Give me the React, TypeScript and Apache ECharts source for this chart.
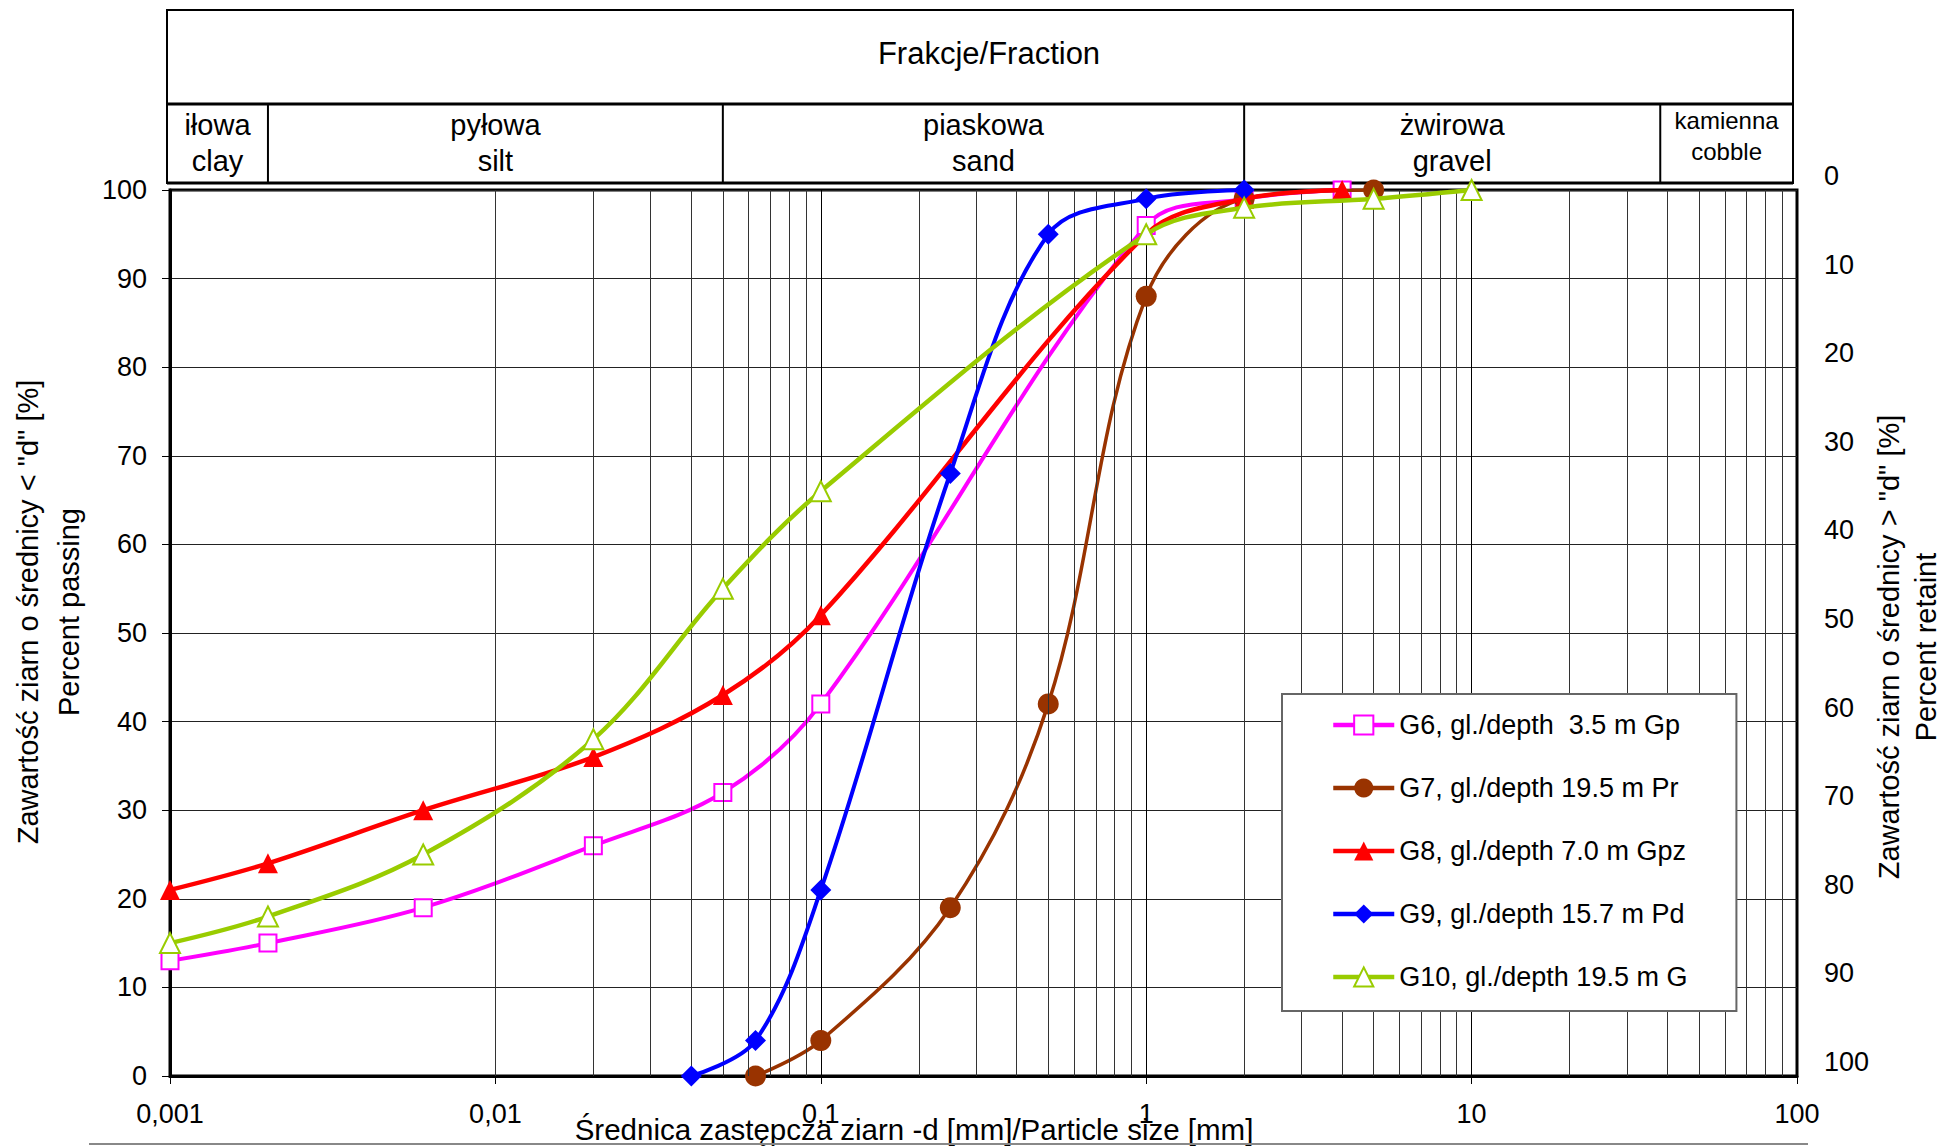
import React, { useEffect, useRef } from 'react';
import * as echarts from 'echarts';

// ---- data ----
const seriesNames = [
  'G6, gl./depth  3.5 m Gp',
  'G7, gl./depth 19.5 m Pr',
  'G8, gl./depth 7.0 m Gpz',
  'G9, gl./depth 15.7 m Pd',
  'G10, gl./depth 19.5 m G',
];
const g6X = [0.001, 0.002, 0.006, 0.02, 0.05, 0.1, 1, 2, 4];
const g6Y = [13, 15, 19, 26, 32, 42, 96, 99, 100];
const g7X = [0.063, 0.1, 0.25, 0.5, 1, 2, 5];
const g7Y = [0, 4, 19, 42, 88, 99, 100];
const g8X = [0.001, 0.002, 0.006, 0.02, 0.05, 0.1, 1, 2, 4];
const g8Y = [21, 24, 30, 36, 43, 52, 95, 99, 100];
const g9X = [0.04, 0.063, 0.1, 0.25, 0.5, 1, 2];
const g9Y = [0, 4, 21, 68, 95, 99, 100];
const g10X = [0.001, 0.002, 0.006, 0.02, 0.05, 0.1, 1, 2, 5, 10];
const g10Y = [15, 18, 25, 38, 55, 66, 95, 98, 99, 100];

const xTickLabels = ['0,001', '0,01', '0,1', '1', '10', '100'];
const leftTickLabels = ['0', '10', '20', '30', '40', '50', '60', '70', '80', '90', '100'];
const rightTickLabels = ['0', '10', '20', '30', '40', '50', '60', '70', '80', '90', '100'];
const minorGrid = [
  0.002, 0.003, 0.004, 0.005, 0.006, 0.007, 0.008, 0.009,
  0.02, 0.03, 0.04, 0.05, 0.06, 0.07, 0.08, 0.09,
  0.2, 0.3, 0.4, 0.5, 0.6, 0.7, 0.8, 0.9,
  2, 3, 4, 5, 6, 7, 8, 9,
  20, 30, 40, 50, 60, 70, 80, 90,
];
const fractionEdges = [0.001, 0.002, 0.05, 2, 38, 100];
const fractionLabels = [
  ['iłowa', 'clay'],
  ['pyłowa', 'silt'],
  ['piaskowa', 'sand'],
  ['żwirowa', 'gravel'],
  ['kamienna', 'cobble'],
];
const headerTitle = 'Frakcje/Fraction';
const yNameLeft = 'Zawartość ziarn o średnicy < "d" [%]\nPercent passing';
const yNameRight = 'Zawartość ziarn o średnicy > "d" [%]\nPercent retaint';
const xName = 'Średnica zastępcza ziarn -d [mm]/Particle size [mm]';

const FONT = '"Liberation Sans", Arial, Helvetica, sans-serif';

const W = 1942;
const H = 1146;
const GL = 170;
const GT = 190;
const GR = 1797;
const GB = 1076;

const px = (v: number) => GL + ((GR - GL) * (Math.log10(v) + 3)) / 5;

export default function App() {
  const ref = useRef<HTMLDivElement>(null);

  useEffect(() => {
    document.body.style.margin = '0';
    if (!ref.current) return;
    const chart = echarts.init(ref.current, undefined, { renderer: 'svg' });

    const styles = [
      { color: '#FF00FF', symbol: 'emptyRect', size: 17, width: 4 },
      { color: '#993300', symbol: 'circle', size: 21, width: 3.5 },
      { color: '#FF0000', symbol: 'triangle', size: 20, width: 4.5 },
      { color: '#0000FF', symbol: 'diamond', size: 21, width: 4 },
      { color: '#99CC00', symbol: 'emptyTriangle', size: 20, width: 4.5 },
    ];
    const xs = [g6X, g7X, g8X, g9X, g10X];
    const ys = [g6Y, g7Y, g8Y, g9Y, g10Y];

    const dataSeries = seriesNames.map((name, i) => ({
      name,
      type: 'line',
      xAxisIndex: 0,
      yAxisIndex: 0,
      smooth: 0.35,
      symbol: styles[i].symbol,
      symbolSize: styles[i].size,
      showAllSymbol: true,
      z: 3 + i,
      lineStyle: { color: styles[i].color, width: styles[i].width },
      itemStyle: { color: styles[i].color, borderWidth: 2.5 },
      emphasis: { disabled: true },
      data: xs[i].map((x, j) => [x, ys[i][j]]),
    }));

    const cellEdges = fractionEdges.map((v, i) =>
      i === 0 ? 167 : i === fractionEdges.length - 1 ? 1793 : px(v)
    );

    const graphics: any[] = [
      {
        type: 'rect',
        shape: { x: 167, y: 10, width: 1626, height: 173 },
        style: { fill: '#fff', stroke: '#000', lineWidth: 2 },
      },
      {
        type: 'line',
        shape: { x1: 167, y1: 104, x2: 1793, y2: 104 },
        style: { stroke: '#000', lineWidth: 3 },
      },
      {
        type: 'line',
        shape: { x1: 167, y1: 183, x2: 1793, y2: 183 },
        style: { stroke: '#000', lineWidth: 3 },
      },
      {
        type: 'text',
        x: 989,
        y: 53,
        style: {
          text: headerTitle,
          font: `31px ${FONT}`,
          fill: '#000',
          align: 'center',
          verticalAlign: 'middle',
        },
      },
    ];
    for (let i = 1; i < cellEdges.length - 1; i++) {
      graphics.push({
        type: 'line',
        shape: { x1: cellEdges[i], y1: 104, x2: cellEdges[i], y2: 183 },
        style: { stroke: '#000', lineWidth: 2 },
      });
    }
    fractionLabels.forEach((lbl, i) => {
      const cx = (cellEdges[i] + cellEdges[i + 1]) / 2;
      const small = i === fractionLabels.length - 1;
      graphics.push({
        type: 'text',
        x: cx,
        y: small ? 136 : 143,
        style: {
          text: lbl.join('\n'),
          font: `${small ? 24 : 29}px ${FONT}`,
          lineHeight: small ? 31 : 36,
          fill: '#000',
          align: 'center',
          verticalAlign: 'middle',
        },
      });
    });
    graphics.push(
      {
        type: 'text',
        x: 48,
        y: 612,
        rotation: Math.PI / 2,
        style: {
          text: yNameLeft,
          font: `29px ${FONT}`,
          lineHeight: 41,
          fill: '#000',
          align: 'center',
          verticalAlign: 'middle',
        },
      },
      {
        type: 'text',
        x: 1907,
        y: 647,
        rotation: Math.PI / 2,
        style: {
          text: yNameRight,
          font: `29px ${FONT}`,
          lineHeight: 37,
          fill: '#000',
          align: 'center',
          verticalAlign: 'middle',
        },
      },
      {
        type: 'text',
        x: 914,
        y: 1129,
        style: {
          text: xName,
          font: `29.5px ${FONT}`,
          fill: '#000',
          align: 'center',
          verticalAlign: 'middle',
        },
      },
      {
        type: 'line',
        shape: { x1: 89, y1: 1144, x2: 1808, y2: 1144 },
        style: { stroke: '#888', lineWidth: 2 },
      }
    );

    const option: any = {
      animation: false,
      backgroundColor: '#fff',
      grid: {
        left: GL,
        top: GT,
        right: W - GR,
        bottom: H - GB,
        show: true,
        borderColor: '#000',
        borderWidth: 3,
        backgroundColor: 'transparent',
      },
      xAxis: [
        {
          type: 'log',
          logBase: 10,
          min: 0.001,
          max: 100,
          axisLine: { show: true, lineStyle: { color: '#000', width: 3 } },
          axisTick: { show: true, length: 8, lineStyle: { color: '#000', width: 1 } },
          axisLabel: {
            margin: 24,
            fontSize: 27,
            fontFamily: FONT,
            color: '#000',
            formatter: (v: number) => xTickLabels[Math.round(Math.log10(v)) + 3],
          },
          splitLine: { show: true, lineStyle: { color: '#000', width: 1 } },
          minorTick: { show: false },
          minorSplitLine: { show: false },
        },
      ],
      yAxis: [
        {
          type: 'value',
          min: 0,
          max: 100,
          interval: 10,
          position: 'left',
          axisLine: { show: true, lineStyle: { color: '#000', width: 3 } },
          axisTick: { show: true, length: 8, lineStyle: { color: '#000', width: 1 } },
          axisLabel: {
            margin: 23,
            fontSize: 27,
            fontFamily: FONT,
            color: '#000',
            formatter: (v: number) => leftTickLabels[Math.round(v / 10)],
          },
          splitLine: { show: true, lineStyle: { color: '#222', width: 1 } },
        },
        {
          type: 'value',
          min: 0,
          max: 100,
          interval: 10,
          inverse: true,
          position: 'right',
          axisLine: { show: false },
          axisTick: { show: false },
          axisLabel: {
            margin: 27,
            fontSize: 27,
            fontFamily: FONT,
            color: '#000',
            verticalAlign: 'bottom',
            lineHeight: 28,
            formatter: (v: number) => rightTickLabels[Math.round(v / 10)],
          },
          splitLine: { show: false },
        },
      ],
      legend: {
        data: seriesNames,
        orient: 'vertical',
        left: 1282,
        top: 694,
        padding: [16, 49, 19, 49],
        itemGap: 33,
        itemWidth: 61,
        itemHeight: 24,
        selectedMode: false,
        borderColor: '#666',
        borderWidth: 2,
        backgroundColor: '#fff',
        lineStyle: { width: 4.5 },
        textStyle: { fontSize: 27, fontFamily: FONT, color: '#000', lineHeight: 30 },
        z: 10,
      },
      graphic: graphics,
      series: [
        {
          name: '__grid',
          type: 'line',
          data: [],
          z: 1,
          silent: true,
          markLine: {
            silent: true,
            symbol: ['none', 'none'],
            label: { show: false },
            emphasis: { disabled: true },
            lineStyle: { color: '#333', width: 1, type: 'solid' },
            data: minorGrid.map((v) => ({ xAxis: v })),
          },
        },
        ...dataSeries,
      ],
    };

    chart.setOption(option);
    return () => chart.dispose();
  }, []);

  return <div ref={ref} style={{ width: W, height: H }} />;
}
